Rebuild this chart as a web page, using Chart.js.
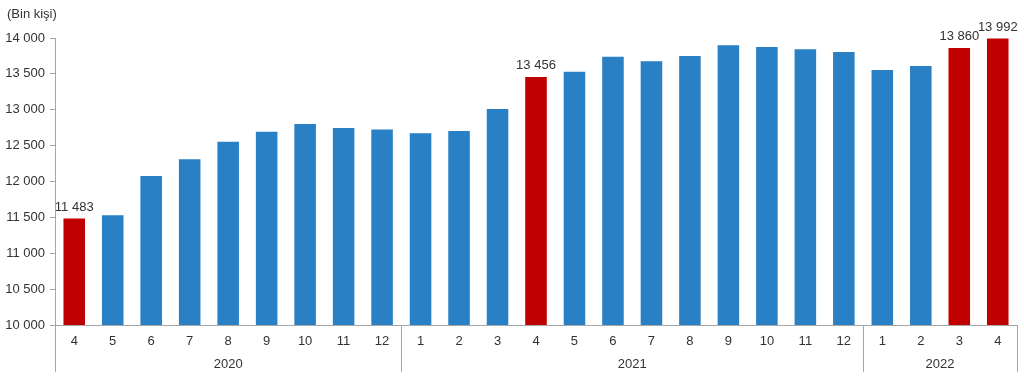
<!DOCTYPE html>
<html><head><meta charset="utf-8">
<script src="https://cdn.jsdelivr.net/npm/chart.js@4/dist/chart.umd.min.js"></script>
<style>html,body{margin:0;padding:0;background:#fff}#w{position:relative;width:1024px;height:387px}</style>
</head><body><div id="w"><canvas id="c" width="1024" height="387"></canvas></div>
<script>
const months = ['4','5','6','7','8','9','10','11','12','1','2','3','4','5','6','7','8','9','10','11','12','1','2','3','4'];
const years = ['2020','2021','2022'];
const yearCounts = [9,12,4];
const values = [11483,11530,12075,12310,12555,12695,12800,12745,12725,12672,12704,13010,13456,13530,13740,13675,13750,13900,13875,13842,13805,13554,13610,13860,13992];
const highlighted = [0,12,23,24];
const yTicks = [10000,10500,11000,11500,12000,12500,13000,13500,14000];
const unitLabel = '(Bin kişi)';

const BLUE = '#2a80c4', RED = '#c00000', AXIS = '#a6a6a6', TXT = '#333333';
const FONT = '"Liberation Sans", Arial, sans-serif';
const FS = 13;
const fmt = v => String(v).replace(/\B(?=(\d{3})+(?!\d))/g, ' ');

const colors = values.map((v,i) => highlighted.includes(i) ? RED : BLUE);

const extras = {
  id: 'extras',
  afterDraw(chart) {
    const ctx = chart.ctx, xs = chart.scales.x, area = chart.chartArea;
    ctx.save();
    ctx.font = FS + 'px ' + FONT; ctx.fillStyle = TXT;
    ctx.textAlign = 'left'; ctx.textBaseline = 'middle';
    ctx.fillText(unitLabel, 7, 14);
    const meta = chart.getDatasetMeta(0);
    ctx.textAlign = 'center'; ctx.textBaseline = 'bottom';
    highlighted.forEach(i => {
      const el = meta.data[i];
      ctx.fillText(fmt(values[i]), el.x, el.y - 5);
    });
    ctx.strokeStyle = AXIS; ctx.lineWidth = 1;
    const half = (xs.getPixelForValue(1) - xs.getPixelForValue(0)) / 2;
    let start = 0;
    const bounds = [Math.round(xs.getPixelForValue(0) - half) + 0.5];
    yearCounts.forEach((n, k) => {
      const x0 = xs.getPixelForValue(start) - half;
      const x1 = xs.getPixelForValue(start + n - 1) + half;
      bounds.push(Math.round(x1) + 0.5);
      ctx.fillStyle = TXT; ctx.textBaseline = 'middle'; ctx.textAlign = 'center';
      ctx.fillText(years[k], (x0 + x1) / 2, 364);
      start += n;
    });
    bounds.forEach(b => {
      ctx.beginPath(); ctx.moveTo(b, area.bottom); ctx.lineTo(b, 372); ctx.stroke();
    });
    ctx.restore();
  }
};

new Chart(document.getElementById('c'), {
  type: 'bar',
  data: { labels: months, datasets: [{ data: values, backgroundColor: colors, barPercentage: 0.56, categoryPercentage: 1 }] },
  options: {
    responsive: false, animation: false, devicePixelRatio: 1,
    layout: { padding: { top: 38, right: 7, bottom: 0, left: 0 } },
    plugins: { legend: { display: false }, tooltip: { enabled: false } },
    scales: {
      x: {
        grid: { display: false, drawTicks: false },
        border: { display: true, color: AXIS, width: 1 },
        ticks: { color: TXT, font: { family: FONT, size: FS }, padding: 9, maxRotation: 0, autoSkip: false },
        afterFit(s) { s.height = 62; }
      },
      y: {
        min: 10000, max: 14000,
        afterBuildTicks(s) { s.ticks = yTicks.map(v => ({ value: v })); },
        grid: { drawOnChartArea: false, drawTicks: true, tickLength: 5, color: AXIS },
        border: { display: true, color: AXIS, width: 1 },
        ticks: { color: TXT, font: { family: FONT, size: FS }, padding: 5, callback: v => fmt(v) },
        afterFit(s) { s.width = 55; }
      }
    }
  },
  plugins: [extras]
});
</script></body></html>
